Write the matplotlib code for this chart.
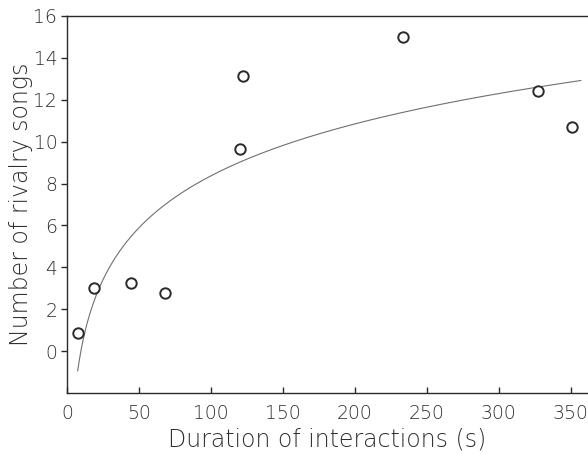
import numpy as np
import matplotlib
matplotlib.use('Agg')
import matplotlib.pyplot as plt

# observed interactions
duration = [7.4, 18.5, 44.2, 67.8, 120.1, 122.5, 233.6, 327.6, 350.9]
songs = [0.84, 3.03, 3.25, 2.75, 9.67, 13.13, 14.98, 12.44, 10.71]

# log fit y = a + b*ln(x)
fit_a = -8.10
fit_b = 3.576
fit_xmin = 7.4
fit_xmax = 357

xticks = [0, 50, 100, 150, 200, 250, 300, 350]
yticks = [0, 2, 4, 6, 8, 10, 12, 14, 16]

plt.rcParams['font.family'] = ['DejaVu Sans']
plt.rcParams['font.weight'] = 'light'
plt.rcParams['axes.labelweight'] = 'light'
txt = '#2e2e2e'

fig = plt.figure(figsize=(5.88, 4.54), dpi=100)
ax = fig.add_axes([0.114, 0.1344, 0.886, 0.8304])

xx = np.linspace(fit_xmin, fit_xmax, 300)
ax.plot(xx, fit_a + fit_b*np.log(xx), color='#707070', lw=0.8)
ax.plot(duration, songs, 'o', mfc='white', mec='#2a2a2a', mew=1.4, ms=7.5, ls='none')

ax.set_xlim(0, 362)
ax.set_ylim(-2, 16)
ax.set_xticks(xticks)
ax.set_yticks(yticks)
ax.spines['right'].set_visible(False)
for s in ['top', 'left', 'bottom']:
    ax.spines[s].set_color('#2a2a2a')
    ax.spines[s].set_linewidth(1.0)
ax.tick_params(axis='x', direction='in', length=4, width=1, colors='#2a2a2a',
               labelcolor=txt, labelsize=13.5, pad=8)
ax.tick_params(axis='y', direction='out', length=4, width=1, colors='#2a2a2a',
               labelcolor=txt, labelsize=13.5, pad=3)
ax.set_xlabel('Duration of interactions (s)', fontsize=17, color=txt, labelpad=3)
ax.set_ylabel('Number of rivalry songs', fontsize=17, color=txt, labelpad=0)

plt.savefig('out.png', dpi=100)
